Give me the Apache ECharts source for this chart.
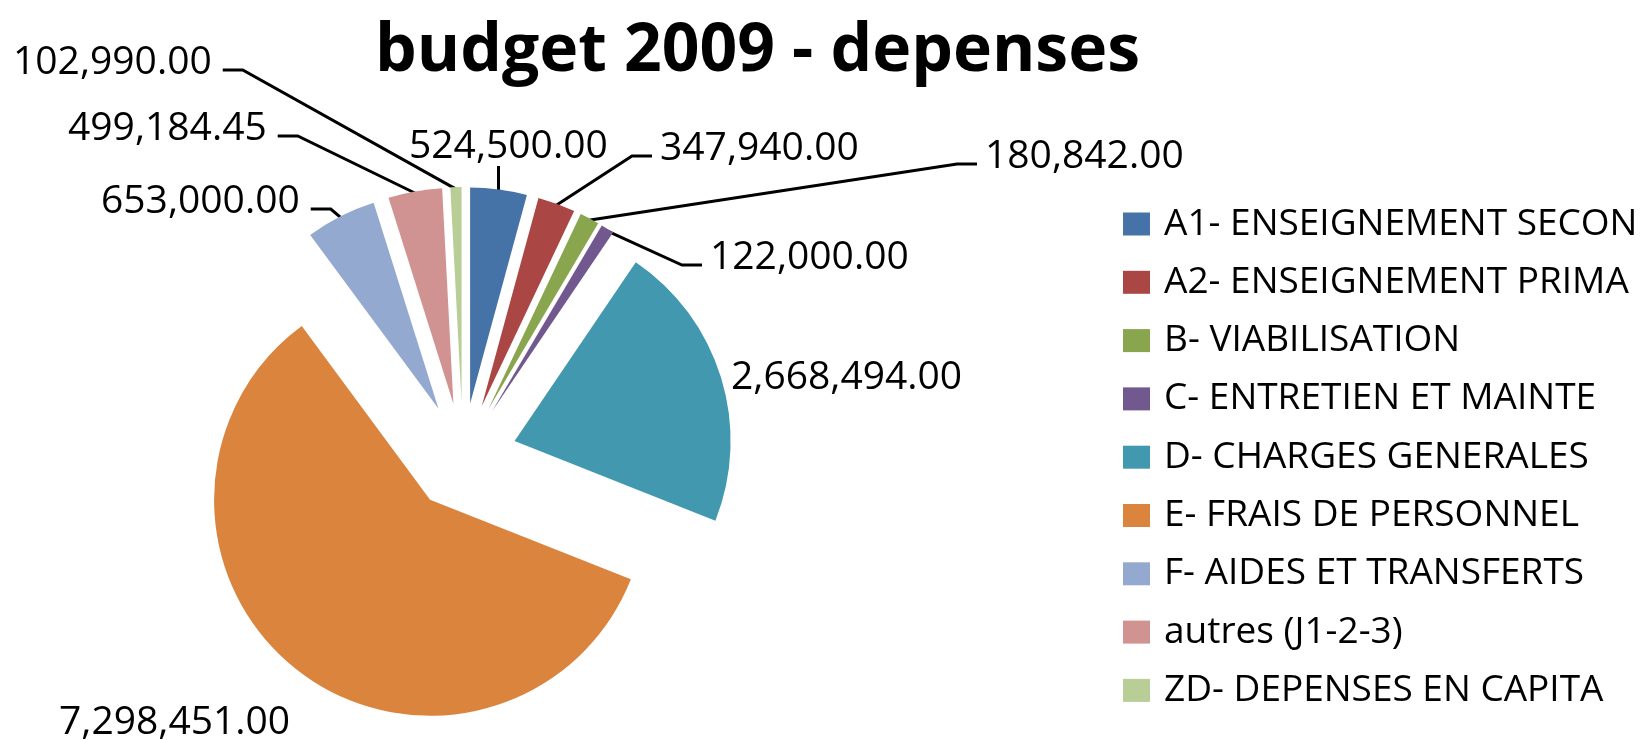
<!DOCTYPE html>
<html><head><meta charset="utf-8">
<script src="https://cdn.jsdelivr.net/npm/echarts@6/dist/echarts.min.js"></script>
<style>html,body{margin:0;padding:0;background:#fff}#c{width:1652px;height:740px}</style>
</head><body><div id="c"></div>
<script>
const titleText = 'budget 2009 - depenses';
const categories = [
  'A1- ENSEIGNEMENT SECON',
  'A2- ENSEIGNEMENT PRIMA',
  'B- VIABILISATION',
  'C- ENTRETIEN ET MAINTE',
  'D- CHARGES GENERALES',
  'E- FRAIS DE PERSONNEL',
  'F- AIDES ET TRANSFERTS',
  'autres (J1-2-3)',
  'ZD- DEPENSES EN CAPITA'
];
const values = [524500.00, 347940.00, 180842.00, 122000.00, 2668494.00, 7298451.00, 653000.00, 499184.45, 102990.00];
const colors = ['#4572A7', '#AA4643', '#89A54E', '#71588F', '#4198AF', '#DB843D', '#93A9CF', '#D19392', '#B9CD96'];

// label placement (layout only): left x, middle y, leader mode
const labelSpots = [
  [409, 147, 'up'], [660, 149, 'right'], [985, 157, 'right'], [710, 258, 'right'],
  [731, 378, 'none'], [59, 723, 'none'], [101, 202, 'left'], [68, 129, 'left'], [13, 63, 'left']
];
const CX = 463, CY = 457, R = 216, OFF = 54;

const total = values.reduce((a, b) => a + b, 0);
let acc = 0;
const mids = values.map(v => { const m = (acc + v / 2) / total * 2 * Math.PI; acc += v; return m; });
function anchor(i) { const r = R + OFF - 2; return [CX + r * Math.sin(mids[i]), CY - r * Math.cos(mids[i])]; }
const fmt = v => v.toLocaleString('en-US', {minimumFractionDigits: 2, maximumFractionDigits: 2});

const chart = echarts.init(document.getElementById('c'), null, {renderer: 'canvas'});
chart.setOption({
  animation: false,
  backgroundColor: '#fff',
  title: {
    text: titleText, left: 375, top: 19, padding: 0,
    textStyle: {fontFamily: 'Open Sans', fontWeight: 'bold', fontSize: 66, lineHeight: 66, color: '#000'}
  },
  legend: {
    orient: 'vertical', left: 1123, top: 204, padding: 0,
    icon: 'rect', itemWidth: 27, itemHeight: 23, itemGap: 18.3,
    textStyle: {fontFamily: 'Open Sans', fontSize: 37, lineHeight: 37, color: '#000', padding: [3, 0, 0, 9]},
    data: categories
  },
  series: [{
    type: 'pie',
    center: [CX, CY], radius: [0, R],
    startAngle: 90, clockwise: true,
    selectedMode: 'multiple', selectedOffset: OFF,
    itemStyle: {borderWidth: 0},
    select: {itemStyle: {borderWidth: 0}, label: {show: false}, labelLine: {show: false}},
    emphasis: {disabled: true},
    label: {show: false},
    labelLine: {show: false},
    data: categories.map((c, i) => ({
      name: c, value: values[i], selected: true,
      itemStyle: {color: colors[i]}
    }))
  }, {
    type: 'pie',
    silent: true,
    center: [CX, CY], radius: [0, R],
    startAngle: 90, clockwise: true,
    selectedMode: false,
    avoidLabelOverlap: false,
    itemStyle: {color: 'rgba(0,0,0,0)', borderWidth: 0},
    emphasis: {disabled: true},
    label: {
      show: true, position: 'outside', fontFamily: 'Open Sans', fontSize: 39, color: '#000',
      formatter: p => fmt(p.value)
    },
    labelLine: {show: true, minTurnAngle: 0, lineStyle: {color: '#000', width: 3}},
    labelLayout: function (p) {
      const i = p.dataIndex;
      const s = labelSpots[i];
      const w = p.labelRect.width;
      const a = anchor(i);
      let pts;
      if (s[2] === 'left') {
        const ex = s[0] + w + 11, ey = s[1] + 7;
        pts = [a, [ex + 20, ey], [ex, ey]];
      } else if (s[2] === 'right') {
        const ex = s[0] - 8, ey = s[1] + 7;
        pts = [a, [ex - 20, ey], [ex, ey]];
      } else if (s[2] === 'up') {
        const top = s[1] + 19;
        pts = [a, [a[0], (a[1] + top) / 2], [a[0], top]];
      }
      const out = {x: s[0], y: s[1], align: 'left', verticalAlign: 'middle'};
      if (pts) out.labelLinePoints = pts;
      return out;
    },
    data: categories.map((c, i) => ({
      name: c, value: values[i],
      labelLine: {show: labelSpots[i][2] !== 'none'}
    }))
  }]
});
</script></body></html>
